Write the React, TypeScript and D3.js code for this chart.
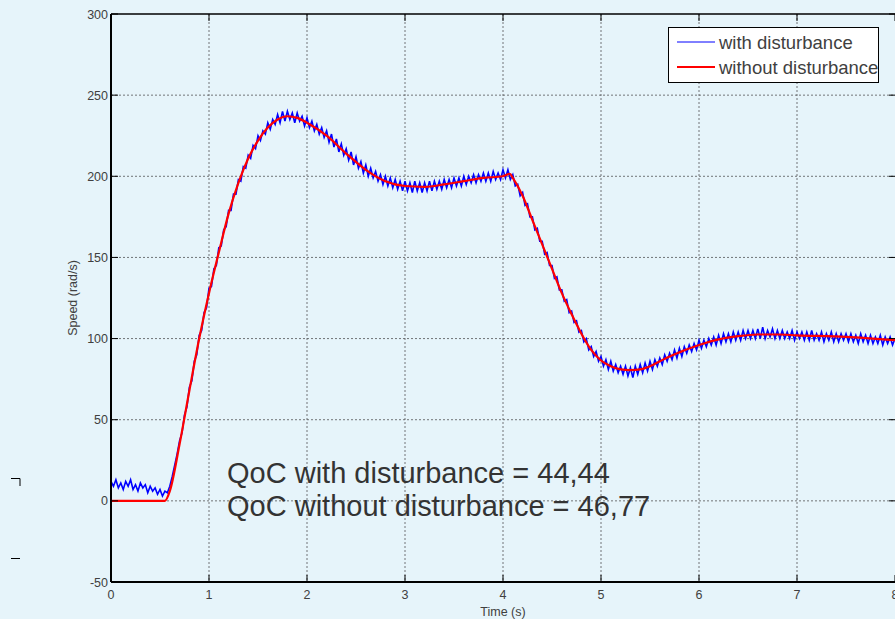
import React from "react";
import * as d3 from "d3";

const W = 895;
const H = 619;

const xTicks = [0, 1, 2, 3, 4, 5, 6, 7, 8];
const yTicks = [-50, 0, 50, 100, 150, 200, 250, 300];

// Red: without disturbance (time, speed)
const redTime = [0, 0.55, 0.6, 0.7, 0.8, 0.9, 1.0, 1.1, 1.2, 1.3, 1.4, 1.5, 1.6, 1.7, 1.8, 1.9, 2.0, 2.2, 2.4, 2.6, 2.8, 3.0, 3.2, 3.4, 3.6, 3.8, 4.0, 4.07, 4.1, 4.2, 4.3, 4.4, 4.5, 4.6, 4.7, 4.8, 4.9, 5.0, 5.1, 5.2, 5.3, 5.4, 5.5, 5.6, 5.7, 5.8, 6.0, 6.2, 6.4, 6.6, 6.8, 7.0, 7.5, 8.0];
const redSpeed = [0, 0, 6, 35, 68, 100, 128, 153, 177, 196, 211, 222, 230, 235, 237, 236, 233, 225, 214, 204, 197, 194, 193.5, 195, 197, 199, 200, 201.5, 199, 188, 173, 158, 143, 128, 115, 103, 93, 86.5, 83, 81, 80.5, 81, 83, 86, 89, 91.5, 96, 99.5, 101.5, 102.5, 102.5, 102, 101, 99];

// Blue: with disturbance, sampled every 0.025 s from t = 0 to t = 8
const blueStep = 0.025;
const blueSpeed = [
  12, 9, 13, 8, 11, 7, 12, 9, 13, 7, 10, 6, 11, 8, 10, 5, 9, 6, 8, 4,
  7, 3, 6, 5, 9, 15, 22, 29, 37, 42, 53, 58, 70, 74, 86, 90, 102, 105, 116, 119,
  131, 132, 143, 145, 156, 157, 167, 169, 179, 179, 189, 189, 198, 197, 206, 205, 213, 211, 219, 217,
  225, 222, 228, 226, 233, 229, 235, 232, 238, 233, 240, 234, 240, 235, 239, 233, 239, 234, 237, 231,
  236, 230, 234, 228, 232, 226, 230, 224, 228, 221, 226, 218, 223, 215, 220, 213, 217, 210, 215, 207,
  212, 205, 209, 202, 207, 200, 205, 199, 203, 197, 201, 195, 200, 194, 199, 193, 198, 192, 197, 191,
  197, 191, 196, 190, 197, 191, 196, 190, 196, 191, 197, 191, 197, 192, 197, 192, 198, 193, 198, 193,
  199, 194, 199, 194, 200, 195, 200, 196, 201, 196, 201, 197, 202, 197, 202, 197, 203, 198, 202, 198,
  204, 199, 204, 198, 201, 194, 195, 188, 190, 182, 183, 175, 175, 167, 168, 160, 160, 152, 153, 145,
  145, 137, 138, 130, 130, 123, 124, 116, 117, 110, 111, 104, 105, 98, 100, 93, 95, 89, 92, 86,
  89, 83, 87, 81, 86, 80, 84, 79, 83, 78, 83, 77, 82, 76, 83, 78, 84, 79, 85, 80,
  86, 81, 87, 83, 88, 84, 90, 86, 91, 87, 93, 88, 94, 89, 95, 91, 96, 92, 97, 93,
  99, 94, 99, 95, 100, 96, 101, 96, 102, 97, 103, 98, 103, 98, 104, 99, 104, 99, 105, 100,
  105, 100, 105, 100, 106, 100, 107, 100, 105, 101, 106, 100, 105, 100, 105, 100, 104, 100, 105, 99,
  104, 100, 104, 99, 104, 99, 105, 99, 103, 99, 104, 98, 103, 99, 104, 98, 103, 98, 103, 99,
  103, 98, 103, 98, 102, 97, 103, 98, 102, 97, 102, 97, 101, 97, 102, 96, 101, 97, 101, 96,
  100,
];

const legendLabels = ["with disturbance", "without disturbance"];
const annotations = ["QoC with disturbance = 44,44", "QoC without disturbance = 46,77"];

const BG = "#e6f4fa";
const TEXT = "#404040";
const FONT = "'Liberation Sans', Arial, sans-serif";

export default function App() {
  const left = 111, right = 895, top = 14, bottom = 582;
  const x = d3.scaleLinear().domain([0, 8]).range([left, right]);
  const y = d3.scaleLinear().domain([-50, 300]).range([bottom, top]);

  const redData = redTime.map((t, i) => [t, redSpeed[i]] as [number, number]);
  const blueData = blueSpeed.map((v, i) => [i * blueStep, v] as [number, number]);

  const redLine = d3.line<[number, number]>().x(d => x(d[0])).y(d => y(d[1])).curve(d3.curveMonotoneX);
  const blueLine = d3.line<[number, number]>().x(d => x(d[0])).y(d => y(d[1]));

  return (
    <svg width={W} height={H} style={{ display: "block", position: "absolute", left: 0, top: 0, background: BG }} fontFamily={FONT}>
      <rect x={0} y={0} width={W} height={H} fill={BG} />
      <defs>
        <clipPath id="plotclip">
          <rect x={left} y={top} width={right - left + 2} height={bottom - top} />
        </clipPath>
      </defs>
      {/* grid */}
      <g stroke="#444" strokeWidth={0.8} strokeDasharray="2,2" opacity={0.9}>
        {xTicks.slice(1, -1).map(t => (
          <line key={"gx" + t} x1={x(t)} x2={x(t)} y1={top} y2={bottom} />
        ))}
        {yTicks.slice(1, -1).map(t => (
          <line key={"gy" + t} x1={left} x2={right} y1={y(t)} y2={y(t)} />
        ))}
      </g>
      {/* series */}
      <g clipPath="url(#plotclip)">
        <path d={blueLine(blueData) || ""} fill="none" stroke="#0000ff" strokeWidth={1.6} strokeLinejoin="miter" />
        <path d={redLine(redData) || ""} fill="none" stroke="#ff0000" strokeWidth={2.2} />
      </g>
      {/* axes box */}
      <g stroke="#000" fill="none">
        <line x1={left} x2={right + 2} y1={top} y2={top} strokeWidth={1.5} />
        <line x1={left} x2={left} y1={top} y2={bottom} strokeWidth={2} />
        <line x1={left} x2={right + 2} y1={bottom} y2={bottom} strokeWidth={2} />
        {xTicks.map(t => (
          <g key={"tx" + t}>
            <line x1={x(t)} x2={x(t)} y1={bottom} y2={bottom - 7} strokeWidth={1} />
            <line x1={x(t)} x2={x(t)} y1={top} y2={top + 7} strokeWidth={1} />
          </g>
        ))}
        {yTicks.map(t => (
          <g key={"ty" + t}>
            <line x1={left} x2={left + 7} y1={y(t)} y2={y(t)} strokeWidth={1} />
            <line x1={right + 1} x2={right - 6} y1={y(t)} y2={y(t)} strokeWidth={1} />
          </g>
        ))}
      </g>
      {/* tick labels */}
      <g fill={TEXT} fontSize={12.5}>
        {xTicks.map(t => (
          <text key={"lx" + t} x={x(t)} y={bottom + 17} textAnchor="middle">{t}</text>
        ))}
        {yTicks.map(t => (
          <text key={"ly" + t} x={left - 3} y={y(t) + 4.5} textAnchor="end">{t}</text>
        ))}
      </g>
      <text x={(left + right) / 2} y={616} fill={TEXT} fontSize={12.5} textAnchor="middle">Time (s)</text>
      <text transform={`translate(77, ${(top + bottom) / 2}) rotate(-90)`} fill={TEXT} fontSize={12.5} textAnchor="middle">Speed (rad/s)</text>
      {/* annotations */}
      <g fill="#333" fontSize={29}>
        {annotations.map((s, i) => (
          <text key={"an" + i} x={227} y={483 + i * 33}>{s}</text>
        ))}
      </g>
      {/* legend */}
      <g>
        <rect x={668.5} y={27.5} width={210} height={55} fill="#fff" stroke="#000" strokeWidth={1} />
        <line x1={677} x2={715} y1={42} y2={42} stroke="#0000ff" strokeWidth={1} />
        <line x1={677} x2={715} y1={67} y2={67} stroke="#ff0000" strokeWidth={2} />
        {legendLabels.map((s, i) => (
          <text key={"lg" + i} x={719} y={48.5 + i * 25} fill={TEXT} fontSize={18.5}>{s}</text>
        ))}
      </g>
      {/* stray marks on the left */}
      <g stroke="#000" strokeWidth={1} fill="none">
        <path d="M11,478.5 H20 V486" />
        <line x1={11} x2={20} y1={558.5} y2={558.5} />
      </g>
    </svg>
  );
}
